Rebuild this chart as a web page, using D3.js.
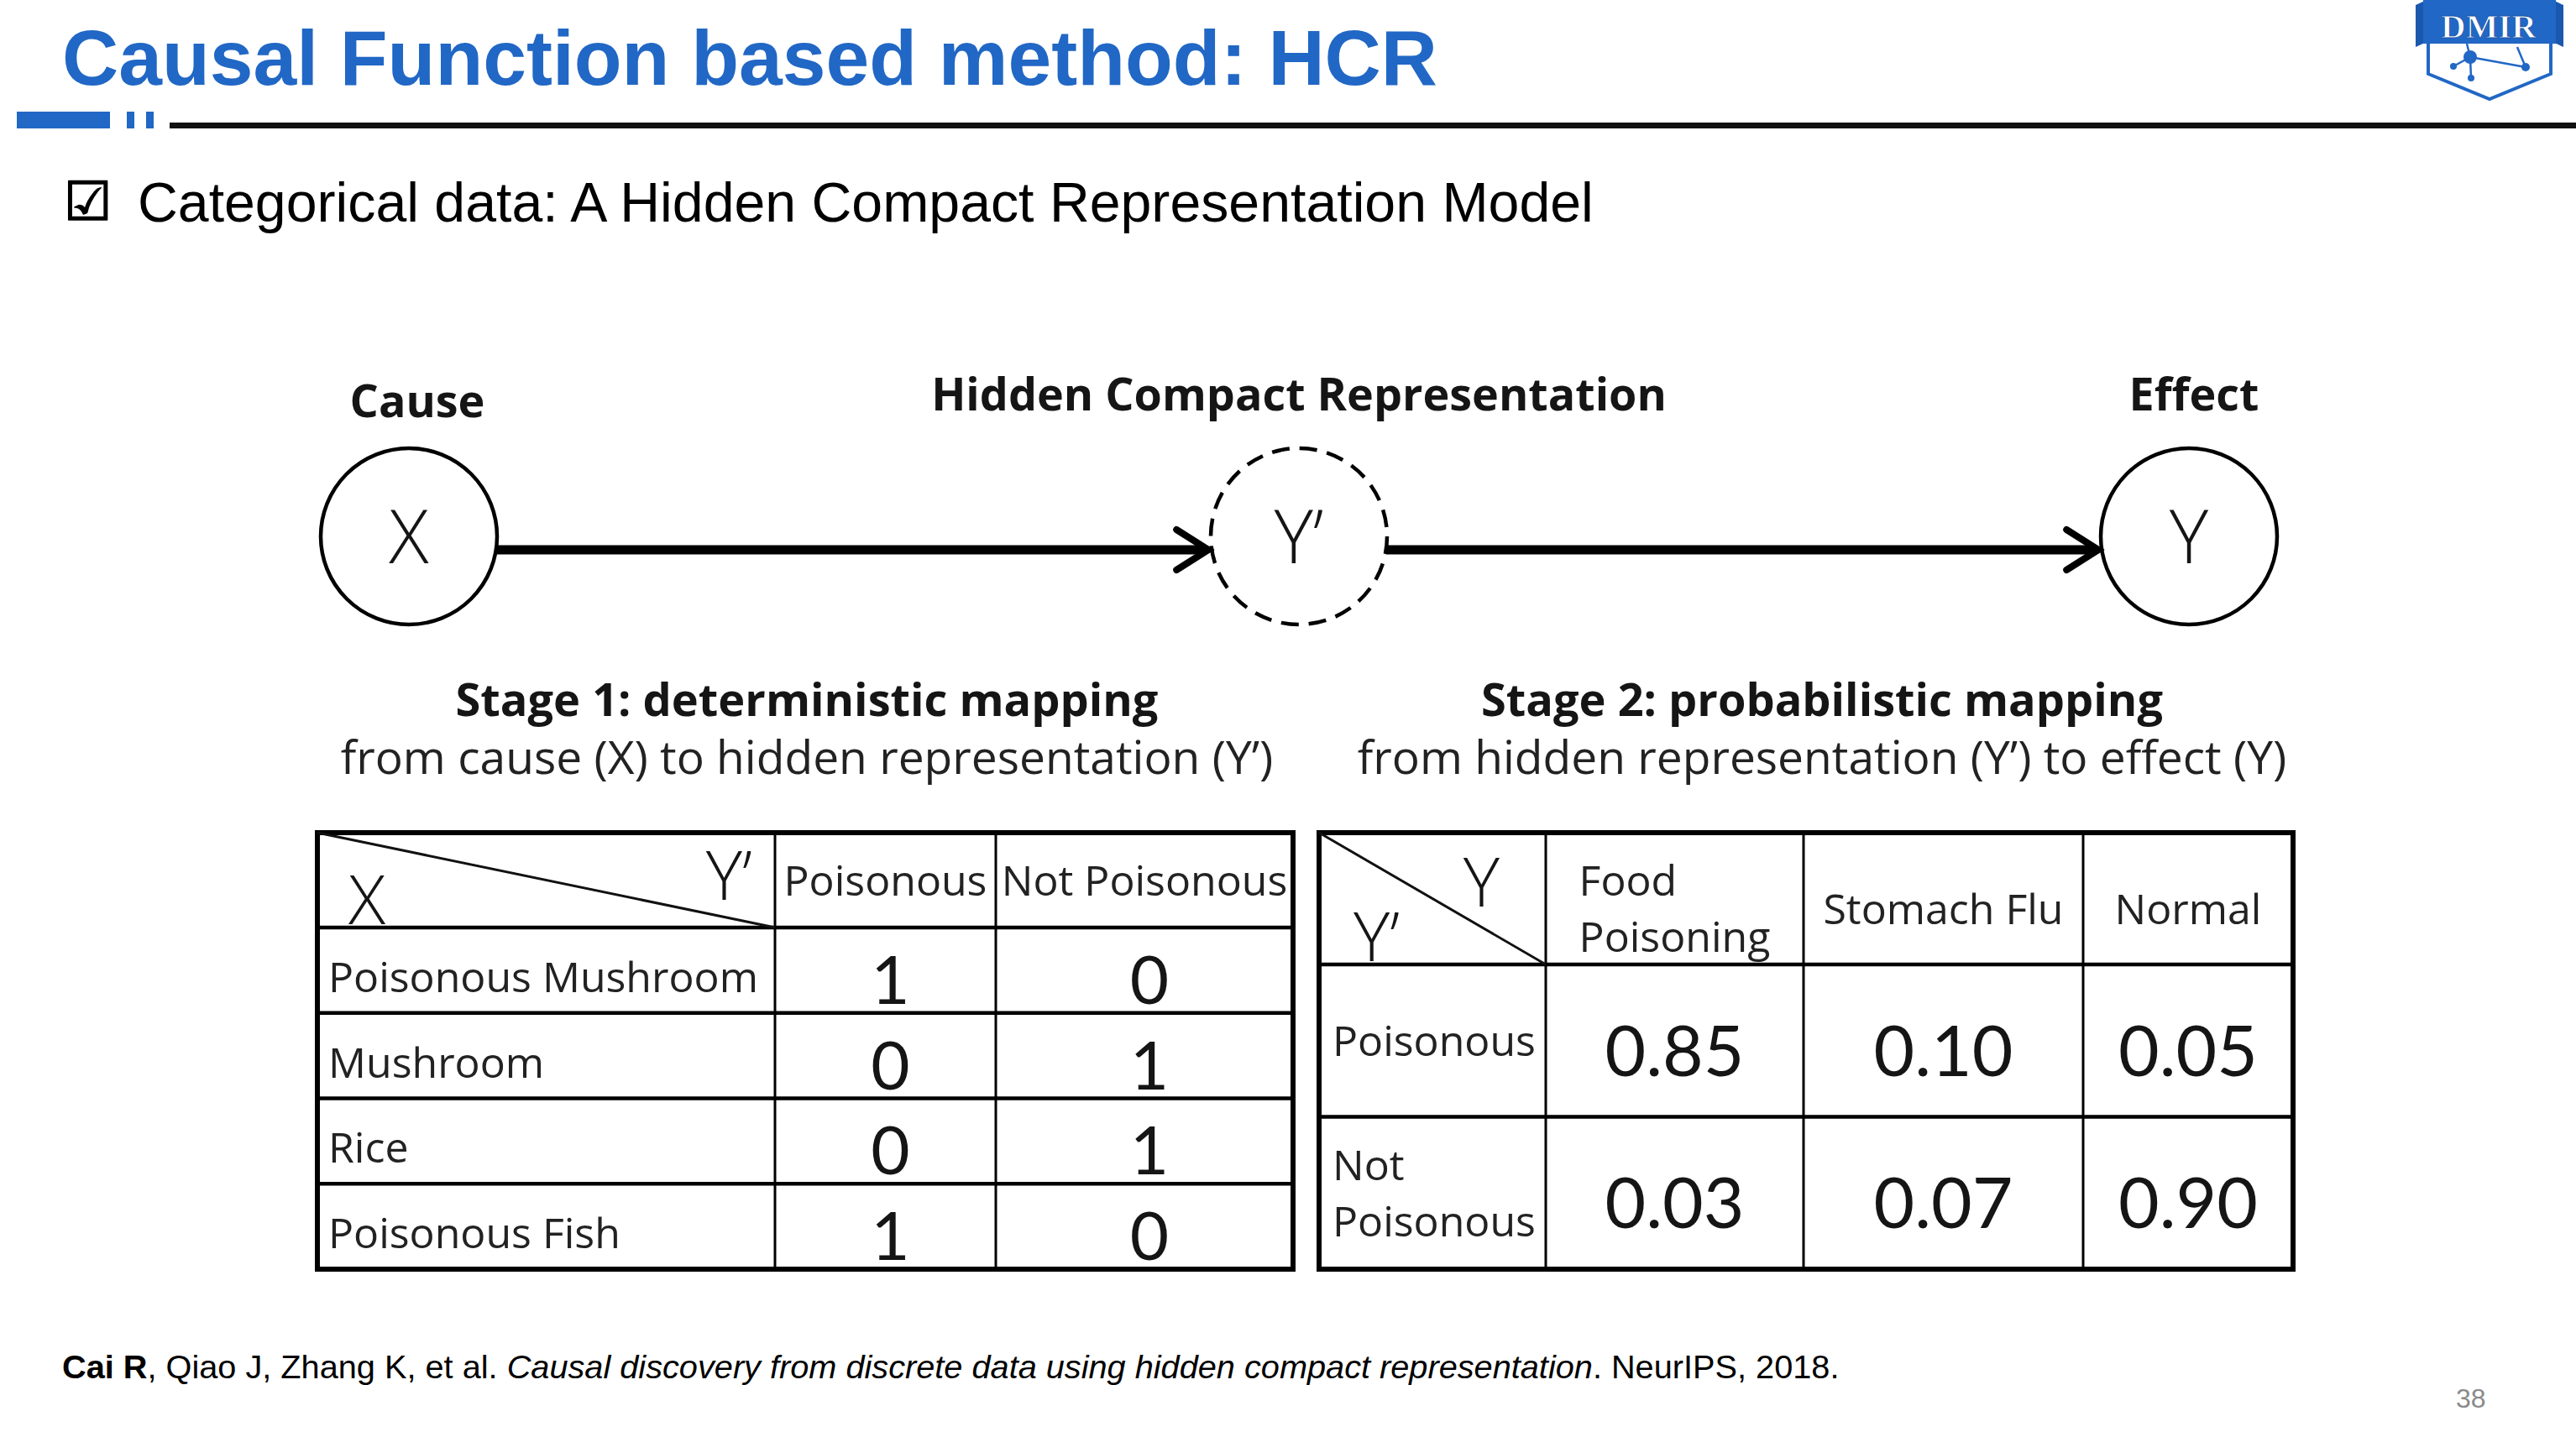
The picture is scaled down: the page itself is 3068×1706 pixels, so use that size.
<!DOCTYPE html>
<html>
<head>
<meta charset="utf-8">
<script src="https://cdn.jsdelivr.net/npm/d3@7"></script>
<style>
  body { margin: 0; background: #fff; }
  svg { display: block; }
</style>
</head>
<body>
<div id="chart"></div>
<script>
// ---- slide content ----
const slideTitle = "Causal Function based method: HCR";
const bulletText = "Categorical data: A Hidden Compact Representation Model";

// causal chain
const nodeLabels = ["X", "Y’", "Y"];
const nodeRoles = ["Cause", "Hidden Compact Representation", "Effect"];

const stageTitles = ["Stage 1: deterministic mapping", "Stage 2: probabilistic mapping"];
const stageNotes = [
  "from cause (X) to hidden representation (Y’)",
  "from hidden representation (Y’) to effect (Y)"
];

// table values
const causeValues = ["Poisonous Mushroom", "Mushroom", "Rice", "Poisonous Fish"];
const hiddenValues = ["Poisonous", "Not Poisonous"];
const effectValues = ["Food Poisoning", "Stomach Flu", "Normal"];

// stage 1: X -> Y' (0/1 mapping)
const stage1Map = [
  [1, 0],
  [0, 1],
  [0, 1],
  [1, 0]
];
// stage 2: Y' -> Y (probabilities)
const stage2Prob = [
  [0.85, 0.10, 0.05],
  [0.03, 0.07, 0.90]
];

const refAuthor = "Cai R";
const refOthers = ", Qiao J, Zhang K, et al. ";
const refTitle = "Causal discovery from discrete data using hidden compact representation";
const refVenue = ". NeurIPS, 2018.";
const pageNumber = "38";

// ---- layout ----
const width = 3068, height = 1706;
const BLUE = "#2167c5";
const INK = "#151515";
const SANS = "'Open Sans', 'Noto Sans', sans-serif";
const DIGITS = "Lato, 'Open Sans', sans-serif";
const ARIAL = "'Liberation Sans', Arial, sans-serif";

const svg = d3.select("#chart")
  .append("svg")
  .attr("width", width)
  .attr("height", height);

svg.append("rect").attr("width", width).attr("height", height).attr("fill", "#fff");

// scale font-size so the text takes the given width
function fitWidth(sel, w) {
  const len = sel.node().getComputedTextLength();
  const fs = parseFloat(sel.attr("font-size"));
  sel.attr("font-size", fs * w / len);
}

// ---- header ----
const head = svg.append("g");
head.append("text")
  .attr("x", 74).attr("y", 101)
  .attr("font-family", ARIAL).attr("font-weight", 700)
  .attr("font-size", 90).attr("fill", BLUE)
  .text(slideTitle)
  .call(fitWidth, 1638);

head.append("rect").attr("x", 20).attr("y", 133).attr("width", 111).attr("height", 20).attr("fill", BLUE);
[151, 174].forEach((x) =>
  head.append("rect").attr("x", x).attr("y", 133).attr("width", 9).attr("height", 20).attr("fill", BLUE)
);
head.append("rect").attr("x", 202).attr("y", 146).attr("width", width - 202).attr("height", 7).attr("fill", "#111");

// DMIR logo
const logo = svg.append("g");
logo.append("path")
  .attr("d", "M2892,50 L2892,88 L2965,118 L3038,88 L3038,50")
  .attr("fill", "#fff").attr("stroke", BLUE).attr("stroke-width", 4);
logo.append("path")
  .attr("d", "M2877,6 L2890,0 L3040,0 L3053,6 L3053,56 L3040,50 L2890,50 L2877,56 Z")
  .attr("fill", "#1a58ad");
logo.append("rect").attr("x", 2886).attr("y", -4).attr("width", 158).attr("height", 56).attr("fill", BLUE);
logo.append("text")
  .attr("x", 2964).attr("y", 45)
  .attr("text-anchor", "middle")
  .attr("font-family", "'Liberation Serif', 'DejaVu Serif', serif")
  .attr("font-weight", 700).attr("font-size", 41)
  .attr("fill", "#fff").attr("stroke", "#1a58ad").attr("stroke-width", 1)
  .text("DMIR");
const net = logo.append("g").attr("stroke", BLUE).attr("stroke-width", 2.5).attr("fill", BLUE);
[[2942, 68, 2922, 79], [2942, 68, 2943, 93], [2942, 68, 3008, 80], [2942, 68, 2938, 52], [2998, 56, 3008, 80]]
  .forEach(([a, b, c, d]) => net.append("line").attr("x1", a).attr("y1", b).attr("x2", c).attr("y2", d));
[[2942, 68, 8], [2922, 79, 4], [2943, 93, 4], [3008, 80, 5]]
  .forEach(([cx, cy, r]) => net.append("circle").attr("cx", cx).attr("cy", cy).attr("r", r).attr("stroke", "none"));

// bullet line
svg.append("text")
  .attr("x", 76).attr("y", 262)
  .attr("font-family", "'DejaVu Sans', sans-serif")
  .attr("font-size", 64).attr("fill", "#000")
  .attr("stroke", "#000").attr("stroke-width", 1.5)
  .text("☑");
svg.append("text")
  .attr("x", 164).attr("y", 264)
  .attr("font-family", ARIAL).attr("font-size", 66).attr("fill", "#000")
  .text(bulletText)
  .call(fitWidth, 1734);

// ---- causal chain diagram ----
const nodeX = d3.scalePoint().domain(nodeLabels).range([487, 2607]);
const nodeY = 639, nodeR = 105, arrowY = 655;
const roleDx = [10, 0, 6];
const diag = svg.append("g");

// role labels above nodes; size fitted on the long middle one
const roles = diag.selectAll("text.role")
  .data(nodeRoles)
  .join("text")
  .attr("class", "role")
  .attr("x", (d, i) => nodeX(nodeLabels[i]) + roleDx[i])
  .attr("y", (d, i) => (i === 0 ? 497 : 489))
  .attr("text-anchor", "middle")
  .attr("font-family", SANS).attr("font-weight", 700)
  .attr("font-size", 50).attr("fill", INK)
  .text((d) => d);
const midRole = roles.filter((d, i) => i === 1);
midRole.call(fitWidth, 876);
roles.attr("font-size", midRole.attr("font-size"));

diag.selectAll("circle.node")
  .data(nodeLabels)
  .join("circle")
  .attr("class", "node")
  .attr("cx", (d) => nodeX(d))
  .attr("cy", nodeY)
  .attr("r", nodeR)
  .attr("fill", "none")
  .attr("stroke", "#000")
  .attr("stroke-width", 4.5)
  .attr("stroke-dasharray", (d, i) => (i === 1 ? "21 12" : null));

diag.selectAll("text.node-label")
  .data(nodeLabels)
  .join("text")
  .attr("class", "node-label")
  .attr("x", (d) => nodeX(d))
  .attr("y", nodeY + 32)
  .attr("text-anchor", "middle")
  .attr("font-family", SANS).attr("font-weight", 300)
  .attr("font-size", 88).attr("fill", INK)
  .text((d) => d);

// arrows between consecutive nodes (hit circle edge at arrowY)
const edgeDx = Math.sqrt(nodeR * nodeR - (arrowY - nodeY) ** 2);
const edges = d3.pairs(nodeLabels);
const line = d3.line();
diag.selectAll("path.edge")
  .data(edges)
  .join("path")
  .attr("class", "edge")
  .attr("d", ([a, b]) => line([[nodeX(a) + edgeDx, arrowY], [nodeX(b) - edgeDx - 6, arrowY]]))
  .attr("stroke", "#000").attr("stroke-width", 11).attr("fill", "none");
diag.selectAll("path.head")
  .data(edges)
  .join("path")
  .attr("class", "head")
  .attr("d", ([, b]) => {
    const tip = nodeX(b) - edgeDx;
    return line([[tip - 42, arrowY - 24], [tip - 4, arrowY], [tip - 42, arrowY + 24]]);
  })
  .attr("stroke", "#000").attr("stroke-width", 8).attr("fill", "none")
  .attr("stroke-linejoin", "miter").attr("stroke-linecap", "round");

// stage captions
const stageX = [961, 2170];
const sTitles = diag.selectAll("text.stage")
  .data(stageTitles)
  .join("text")
  .attr("class", "stage")
  .attr("x", (d, i) => stageX[i]).attr("y", 853)
  .attr("text-anchor", "middle")
  .attr("font-family", SANS).attr("font-weight", 700)
  .attr("font-size", 56).attr("fill", INK)
  .text((d) => d);
sTitles.filter((d, i) => i === 0).call(fitWidth, 837);
sTitles.attr("font-size", sTitles.filter((d, i) => i === 0).attr("font-size"));

const sNotes = diag.selectAll("text.note")
  .data(stageNotes)
  .join("text")
  .attr("class", "note")
  .attr("x", (d, i) => stageX[i]).attr("y", 922)
  .attr("text-anchor", "middle")
  .attr("font-family", SANS)
  .attr("font-size", 55).attr("fill", "#222")
  .text((d) => d);
sNotes.filter((d, i) => i === 0).call(fitWidth, 1111);
sNotes.attr("font-size", sNotes.filter((d, i) => i === 0).attr("font-size"));

// ---- tables ----
const LABEL_FS = 50;

// label that wraps word by word when wider than maxW; block is left aligned
function cellLabel(g, str, { x, cy, maxW, center }) {
  const t = g.append("text")
    .attr("font-family", SANS).attr("font-size", LABEL_FS).attr("fill", "#222")
    .text(str);
  const lines = t.node().getComputedTextLength() > maxW ? str.split(" ") : [str];
  t.text(null);
  const lh = LABEL_FS * 1.34;
  const y0 = cy - ((lines.length - 1) * lh) / 2 + LABEL_FS * 0.36;
  lines.forEach((l, i) => t.append("tspan").attr("x", x).attr("y", y0 + i * lh).text(l));
  if (center) {
    const w = t.node().getBBox().width;
    t.selectAll("tspan").attr("x", x - w / 2);
  }
  return t;
}

function drawTable(cfg, rowKeys, colKeys, cells, fmt, corner) {
  const g = svg.append("g");
  const edgesX = [cfg.x, ...Array.from(d3.cumsum(cfg.colW), (d) => cfg.x + d)];
  const right = edgesX[edgesX.length - 1];
  const x = d3.scaleOrdinal().domain(colKeys).range(edgesX.slice(1, -1));
  const xw = d3.scaleOrdinal().domain(colKeys).range(cfg.colW.slice(1));
  const bodyTop = cfg.y + cfg.headH;
  const bottom = bodyTop + cfg.bodyH;
  const y = d3.scaleBand().domain(rowKeys).range([bodyTop, bottom]);

  // grid
  g.selectAll("line.h")
    .data(rowKeys)
    .join("line")
    .attr("x1", cfg.x).attr("x2", right)
    .attr("y1", (d) => y(d)).attr("y2", (d) => y(d))
    .attr("stroke", "#000").attr("stroke-width", 4.5);
  g.selectAll("line.v")
    .data(colKeys)
    .join("line")
    .attr("x1", (d) => x(d)).attr("x2", (d) => x(d))
    .attr("y1", cfg.y).attr("y2", bottom)
    .attr("stroke", "#000").attr("stroke-width", 3);
  g.append("rect")
    .attr("x", cfg.x).attr("y", cfg.y)
    .attr("width", right - cfg.x).attr("height", bottom - cfg.y)
    .attr("fill", "none").attr("stroke", "#000").attr("stroke-width", 6);

  // corner cell with diagonal
  g.append("line")
    .attr("x1", cfg.x).attr("y1", cfg.y)
    .attr("x2", edgesX[1]).attr("y2", bodyTop)
    .attr("stroke", "#111").attr("stroke-width", 3);
  g.append("text")
    .attr("x", cfg.x + cfg.corner.padL).attr("y", bodyTop - 4)
    .attr("font-family", SANS).attr("font-weight", 300).attr("font-size", 82).attr("fill", INK)
    .text(corner[0]);
  g.append("text")
    .attr("x", edgesX[1] - cfg.corner.padR).attr("y", cfg.y + cfg.corner.top)
    .attr("text-anchor", "end")
    .attr("font-family", SANS).attr("font-weight", 300).attr("font-size", 82).attr("fill", INK)
    .text(corner[1]);

  // column headers
  colKeys.forEach((c) =>
    cellLabel(g, c, {
      x: x(c) + xw(c) / 2,
      cy: cfg.y + cfg.headH / 2 + cfg.headDy,
      maxW: xw(c) - 12,
      center: true
    })
  );
  // row labels
  rowKeys.forEach((r) =>
    cellLabel(g, r, {
      x: cfg.x + cfg.rowPad,
      cy: y(r) + y.bandwidth() / 2 + cfg.rowDy,
      maxW: cfg.colW[0] - 20,
      center: false
    })
  );
  // values
  rowKeys.forEach((r, i) =>
    g.selectAll(null)
      .data(cells[i])
      .join("text")
      .attr("x", (d, j) => x(colKeys[j]) + xw(colKeys[j]) / 2 + cfg.valDx)
      .attr("y", y(r) + y.bandwidth() / 2)
      .attr("dy", "0.5em")
      .attr("text-anchor", "middle")
      .attr("font-family", DIGITS).attr("font-size", cfg.valFs).attr("fill", INK)
      .text((d) => fmt(d))
  );
}

drawTable(
  { x: 378, y: 992, headH: 113, bodyH: 407, colW: [545, 263, 354], headDy: 0, rowDy: 8, rowPad: 13,
    valFs: 80, valDx: 6, corner: { padL: 37, padR: 27, top: 80 } },
  causeValues, hiddenValues, stage1Map, d3.format("d"), ["X", "Y’"]
);
drawTable(
  { x: 1571, y: 992, headH: 157, bodyH: 363, colW: [270, 307, 333, 250], headDy: 12, rowDy: 0, rowPad: 16,
    valFs: 84, valDx: 0, corner: { padL: 41, padR: 55, top: 88 } },
  hiddenValues, effectValues, stage2Prob, d3.format(".2f"), ["Y’", "Y"]
);

// ---- footer ----
const ref = svg.append("text")
  .attr("x", 74).attr("y", 1642)
  .attr("font-family", ARIAL).attr("font-size", 38).attr("fill", "#000");
ref.append("tspan").attr("font-weight", 700).text(refAuthor);
ref.append("tspan").text(refOthers);
ref.append("tspan").attr("font-style", "italic").text(refTitle);
ref.append("tspan").text(refVenue);
ref.call(fitWidth, 2117);

svg.append("text")
  .attr("x", 2925).attr("y", 1677)
  .attr("font-family", ARIAL).attr("font-size", 32).attr("fill", "#8a8a8a")
  .text(pageNumber);
</script>
</body>
</html>
